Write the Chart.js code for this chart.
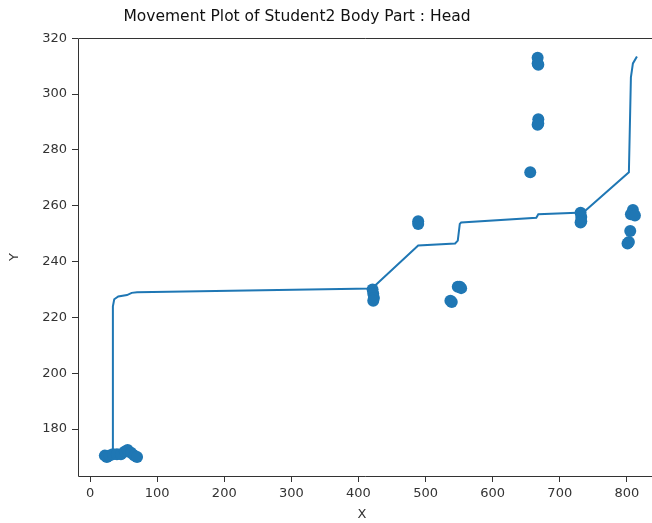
<!DOCTYPE html>
<html>
<head>
<meta charset="utf-8">
<script src="https://cdn.jsdelivr.net/npm/chart.js@4/dist/chart.umd.min.js"></script>
<style>
  html, body { margin: 0; padding: 0; overflow: hidden; background: #fff; }
</style>
</head>
<body>
<canvas id="myChart" width="652" height="523"></canvas>
<script>
// scatter points (x, y)
var dotX = [22, 25, 29, 34, 40, 46, 52, 56, 61, 66, 70,
	421, 422, 423, 422,
	489, 489,
	537, 539, 548, 551, 553,
	656,
	667, 667, 668, 668, 668, 667,
	731, 732, 732, 731,
	809, 806, 812, 805, 803, 801];
var dotY = [170.5, 170, 170.5, 171, 171, 171, 172, 172.5, 171.5, 170.5, 170,
	230, 228.5, 227, 226,
	254.5, 253.5,
	226, 225.5, 231, 231, 230.5,
	272,
	313, 311, 310.5, 291, 289.5, 289,
	257.5, 256, 254.5, 254,
	258.5, 257, 256.5, 251, 247, 246.5];

// the movement line
var lineX = [33, 34, 36, 42, 55, 62, 70, 420, 489, 544, 548, 551, 553, 665, 668, 735, 803, 806, 809, 815];
var lineY = [171, 224, 226.5, 227.5, 228, 228.8, 229, 230.4, 245.8, 246.5, 247.5, 253.5, 254, 255.7, 257, 257.6, 272, 306, 311, 313.5];

var xTicks = [0, 100, 200, 300, 400, 500, 600, 700, 800];
var yTicks = [180, 200, 220, 240, 260, 280, 300, 320];

var titleText = "Movement Plot of Student2 Body Part : Head";
var blue = "#1f77b4";
var font = "'DejaVu Sans', sans-serif";

function toPoints(xs, ys) {
	var out = [];
	for (let i = 0; i < xs.length; i++) {
		out.push({ x: xs[i], y: ys[i] });
	}
	return out;
}

// frame (left, top, bottom; right side is cut off in the original) + title
var framePlugin = {
	id: "frame",
	afterDraw: function(chart) {
		var ctx = chart.ctx;
		var a = chart.chartArea;
		var l = Math.round(a.left) + 0.5, t = Math.round(a.top) + 0.5, b = Math.round(a.bottom) + 0.5;
		ctx.save();
		ctx.strokeStyle = "#333";
		ctx.lineWidth = 1;
		ctx.beginPath();
		ctx.moveTo(chart.width, t);
		ctx.lineTo(l, t);
		ctx.lineTo(l, b);
		ctx.lineTo(chart.width, b);
		ctx.stroke();
		ctx.fillStyle = "#111";
		ctx.font = "15.5px " + font;
		ctx.textAlign = "center";
		ctx.textBaseline = "middle";
		ctx.fillText(titleText, 297, 17);
		ctx.restore();
	}
};

document.addEventListener("DOMContentLoaded", function(event) {
	var ctx = document.getElementById("myChart").getContext("2d");
	var chart = new Chart(ctx, {
		type: "scatter",
		data: {
			datasets: [{
				label: "points",
				data: toPoints(dotX, dotY),
				backgroundColor: blue,
				borderWidth: 0,
				pointRadius: 6,
				pointHoverRadius: 6
			}, {
				label: "path",
				type: "line",
				data: toPoints(lineX, lineY),
				borderColor: blue,
				borderWidth: 2,
				pointRadius: 0,
				showLine: true,
				fill: false,
				tension: 0
			}]
		},
		options: {
			responsive: false,
			animation: false,
			layout: { padding: { top: 38, left: 0, right: 0, bottom: 0 } },
			plugins: {
				legend: { display: false },
				title: { display: false },
				tooltip: { enabled: false }
			},
			scales: {
				x: {
					type: "linear",
					min: -18,
					max: 828.5,
					afterFit: function(scale) {
						scale.height = 47;
						scale.paddingLeft = 0;
						scale.paddingRight = 0;
					},
					afterBuildTicks: function(scale) {
						scale.ticks = xTicks.map(function(v) { return { value: v }; });
					},
					ticks: { color: "#333", font: { family: font, size: 13 }, padding: 4, maxRotation: 0 },
					grid: { drawOnChartArea: false, drawTicks: true, tickLength: 6, color: "#333" },
					border: { display: false },
					title: { display: true, text: "X", color: "#333", font: { family: font, size: 13 }, padding: { top: 0, bottom: 1 } }
				},
				y: {
					type: "linear",
					min: 163.2,
					max: 320.1,
					afterFit: function(scale) { scale.width = 78; },
					afterBuildTicks: function(scale) {
						scale.ticks = yTicks.map(function(v) { return { value: v }; });
					},
					ticks: { color: "#333", font: { family: font, size: 13 }, padding: 5 },
					grid: { drawOnChartArea: false, drawTicks: true, tickLength: 6, color: "#333" },
					border: { display: false },
					title: { display: true, text: "Y", color: "#333", font: { family: font, size: 13 }, padding: { top: 7, bottom: 0 } }
				}
			}
		},
		plugins: [framePlugin]
	});
});
</script>
</body>
</html>
